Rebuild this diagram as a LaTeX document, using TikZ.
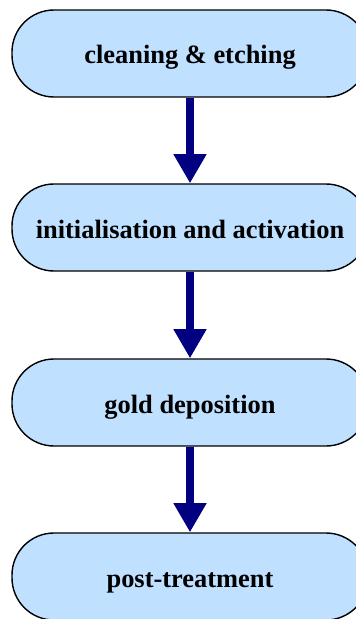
\documentclass[tikz,border=0pt]{standalone}
\usepackage{fontspec}
\setmainfont{Liberation Serif}
\usetikzlibrary{arrows.meta}
\definecolor{stage-blue}{RGB}{191,224,255}
\definecolor{flow-navy}{RGB}{0,0,128}

\begin{document}
\begin{tikzpicture}[
    %% Process stage (stadium box)
    stage/.style = {rectangle, rounded corners=1.05cm,
                    draw=black, line width=1pt, fill=stage-blue,
                    minimum width=8.9cm, minimum height=2.175cm,
                    text height=0.6cm, text depth=0.075cm,
                    font=\fontsize{18.8}{22}\selectfont\bfseries, align=center},
    flow/.style  = {-{Triangle[length=0.73cm, width=0.78cm]},
                    line width=0.2cm, color=flow-navy},
]
\useasboundingbox (0,0) rectangle (8.9,-15.475);
\clip (0,0) rectangle (8.9,-15.475);

%% ---- stages, top to bottom ----
\node[stage] (clean)  at (4.75,  -1.3375) {cleaning \& etching};
\node[stage] (init)   at (4.75,  -5.6875) {initialisation and activation};
\node[stage] (gold)   at (4.75, -10.0625) {gold deposition};
\node[stage] (post)   at (4.75, -14.4125) {post-treatment};

%% stage -> stage arrows
\draw[flow] (clean) -- (init);
\draw[flow] (init)  -- (gold);
\draw[flow] (gold)  -- (post);

\end{tikzpicture}
\end{document}
